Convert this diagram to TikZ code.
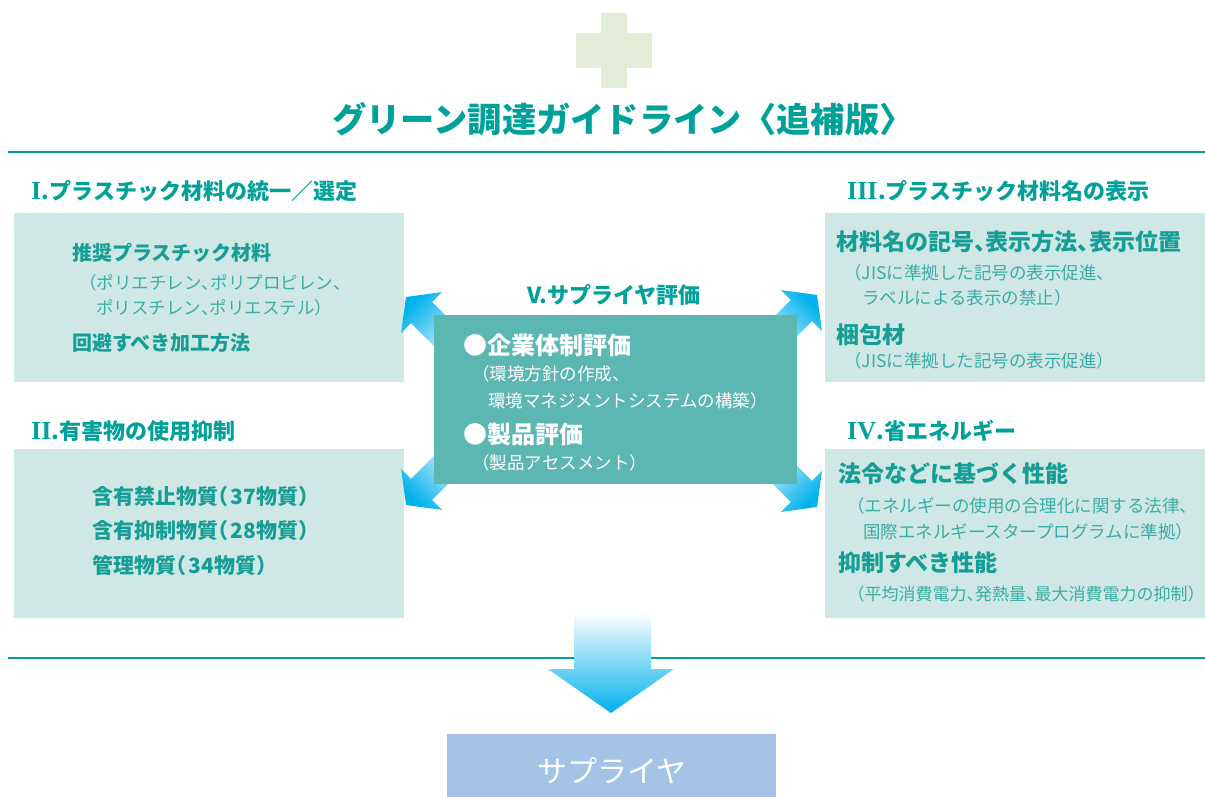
\documentclass[tikz,border=0pt]{standalone}
\usepackage{fontspec}
\setmainfont{Noto Sans CJK JP}
\newfontfamily\rmnum{Liberation Serif}
\usetikzlibrary{calc}
\definecolor{tealA}{HTML}{00A199}
\definecolor{tealT}{HTML}{169E96}
\definecolor{tealS}{HTML}{3AADA6}
\definecolor{boxbg}{HTML}{D0E8E5}
\definecolor{cbox}{HTML}{5CB6B2}
\definecolor{plusc}{HTML}{E3ECD6}
\definecolor{arrc}{HTML}{00B1EB}
\definecolor{supc}{HTML}{A4C3E6}
\newcommand\tten{\makebox[.5em][l]{、}}
\newcommand\lp{\makebox[.5em][r]{（}}
\newcommand\rp{\makebox[.5em][l]{）}}
\newcommand\rn[1]{{\rmnum\bfseries\fontsize{26}{26}\selectfont #1}\kern.5pt}
\newcommand\fsz[1]{\fontsize{#1}{#1}\selectfont}
\newcommand\fatarr[4]{%
  \coordinate (#1) at (#2);
  \shade[#4] (#1) -- ($(#1)+(#3:22)+(#3+90:29)$) -- ($(#1)+(#3:22)+(#3+90:15)$)
    -- ($(#1)+(#3:82)+(#3+90:15)$) -- ($(#1)+(#3:82)+(#3-90:15)$)
    -- ($(#1)+(#3:22)+(#3-90:15)$) -- ($(#1)+(#3:22)+(#3-90:29)$) -- cycle;}
\tikzset{
  lbox/.style={fill=boxbg, draw=none, anchor=north west, inner sep=0, minimum width=390, minimum height=169},
  rbox/.style={fill=boxbg, draw=none, anchor=north west, inner sep=0, minimum width=380, minimum height=169},
  head/.style={anchor=west, inner sep=0, text=tealA, font=\fsz{22}\bfseries},
  iteml/.style={anchor=west, inner sep=0, text=tealT, font=\fsz{20}\bfseries},
  itemm/.style={anchor=west, inner sep=0, text=tealT, font=\fsz{21}\bfseries},
  itemr/.style={anchor=west, inner sep=0, text=tealT, font=\fsz{23}\bfseries},
  sub/.style={anchor=west, inner sep=0, text=tealS, font=\fsz{17.5}},
  citem/.style={anchor=west, inner sep=0, text=white, font=\fsz{24}\bfseries},
  csub/.style={anchor=west, inner sep=0, text=white, font=\fsz{17.5}},
  rule/.style={tealA, line width=1.3}
}
\begin{document}
\begin{tikzpicture}[x=1pt, y=-1pt]
\useasboundingbox (0,0) rectangle (1205,796);
% plus sign
\fill[plusc] (601,13) rectangle (627,88);
\fill[plusc] (576,33) rectangle (652,68);
% title
\node[inner sep=0, text=tealA, font=\fsz{34.3}\bfseries] (title) at (623,119) {グリーン調達ガイドライン〈追補版〉};
\draw[rule] (8,152) -- (1205,152);
% boxes
\node[lbox] (b1) at (14,213) {};
\node[lbox] (b2) at (14,449) {};
\node[rbox] (b3) at (825,213) {};
\node[rbox] (b4) at (825,449) {};
% arrows (drawn below the central box)
\fatarr{a1}{406,297}{45}{top color=arrc, bottom color=white, shading angle=45}
\fatarr{a2}{817,295}{135}{top color=arrc, bottom color=white, shading angle=-45}
\fatarr{a3}{406,505}{-45}{top color=white, bottom color=arrc, shading angle=-45}
\fatarr{a4}{817,507}{-135}{top color=white, bottom color=arrc, shading angle=45}
% central box
\node[fill=cbox, anchor=north west, inner sep=0, minimum width=363, minimum height=169] (c) at (434,315) {};
% headings
\node[head] (h1) at (31,191) {\rn{I}.プラスチック材料の統一／選定};
\node[head] (h2) at (31,431) {\rn{II}.有害物の使用抑制};
\node[head] (h3) at (847,191) {\rn{III}.プラスチック材料名の表示};
\node[head] (h4) at (847,431) {\rn{IV}.省エネルギー};
\node[head, anchor=center] (h5) at (614,295) {V.サプライヤ評価};
% box I
\node[iteml] (t11) at (72,253) {推奨プラスチック材料};
\node[sub] (t12) at (88,283) {\lp ポリエチレン\tten ポリプロピレン\tten};
\node[sub] (t13) at (96,308) {ポリスチレン\tten ポリエステル\rp};
\node[iteml] (t14) at (72,343) {回避すべき加工方法};
% box II
\node[itemm] (t21) at (92,497) {含有禁止物質\lp\kern2pt 37物質\rp};
\node[itemm] (t22) at (92,531) {含有抑制物質\lp\kern2pt 28物質\rp};
\node[itemm] (t23) at (92,565) {管理物質\lp\kern2pt 34物質\rp};
% box III
\node[itemr] (t31) at (836,242) {材料名の記号\tten 表示方法\tten 表示位置};
\node[sub] (t32) at (853,273) {\lp JISに準拠した記号の表示促進\tten};
\node[sub] (t33) at (862,298) {ラベルによる表示の禁止\rp};
\node[itemr] (t34) at (836,335) {梱包材};
\node[sub] (t35) at (853,361) {\lp JISに準拠した記号の表示促進\rp};
% box IV
\node[itemr] (t41) at (838,474) {法令などに基づく性能};
\node[sub] (t42) at (856,506) {\lp エネルギーの使用の合理化に関する法律\tten};
\node[sub] (t43) at (863,532) {国際エネルギースタープログラムに準拠\rp};
\node[itemr] (t44) at (838,563) {抑制すべき性能};
\node[sub, font=\fsz{17}] (t45) at (856,594) {\lp 平均消費電力\tten 発熱量\tten 最大消費電力の抑制\rp};
% central box text
\node[citem] (t51) at (463,345) {●企業体制評価};
\node[csub] (t52) at (481,374) {\lp 環境方針の作成\tten};
\node[csub] (t53) at (488,401) {環境マネジメントシステムの構築\rp};
\node[citem] (t54) at (463,434) {●製品評価};
\node[csub] (t55) at (481,463) {\lp 製品アセスメント\rp};
% bottom rule and arrow
\draw[rule] (8,658) -- (1205,658);
\shade[top color=white, bottom color=arrc] (574,612) -- (651,612) -- (651,669) -- (674,669) -- (611,713) -- (548,669) -- (574,669) -- cycle;
% supplier
\node[fill=supc, anchor=north west, inner sep=0, minimum width=329, minimum height=74] (sup) at (447,734) {};
\node[inner sep=0, text=white, font=\fsz{30}] (supt) at (612,771) {サプライヤ};
\end{tikzpicture}
\end{document}
